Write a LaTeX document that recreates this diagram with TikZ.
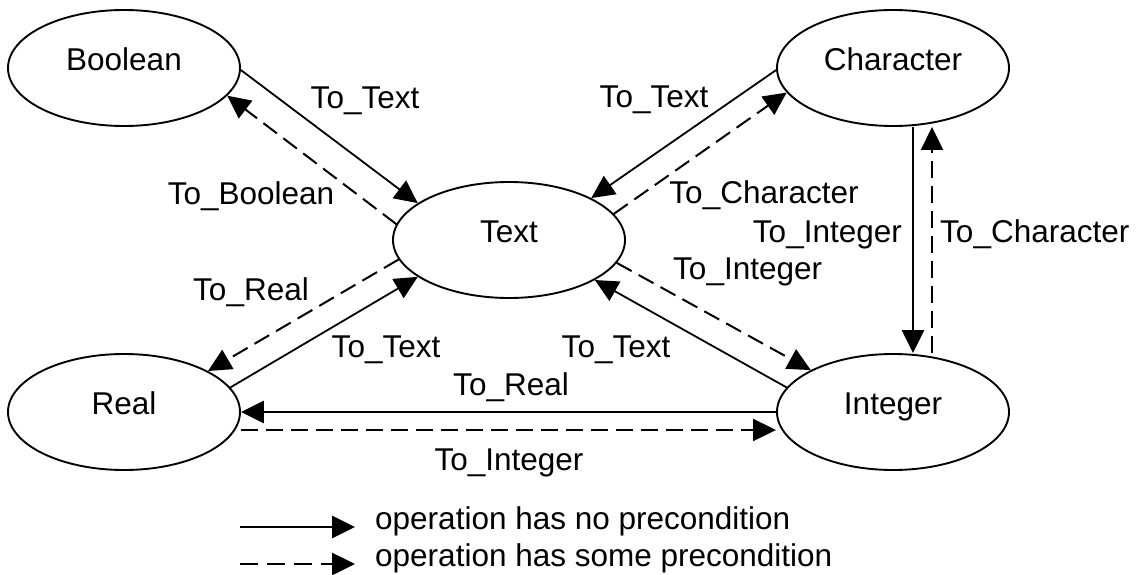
\documentclass[tikz,border=0pt]{standalone}
\usepackage{fontspec}
\setmainfont{Liberation Sans}
\usetikzlibrary{arrows.meta,shapes.geometric}
\begin{document}
\begin{tikzpicture}[x=1pt,y=-1pt,
  every node/.style={font=\fontsize{31.5}{38}\selectfont},
  state/.style={draw, ellipse, line width=1.9pt, minimum width=232pt, minimum height=116pt,
                inner sep=0pt, text height=22.4pt, text depth=17pt},
  lbl/.style={inner sep=0pt},
  tipped/.style={-{Triangle[length=23pt,width=22pt]}},
  nopre/.style={tipped, line width=1.8pt},
  nopreheavy/.style={tipped, line width=2.9pt},
  somepre/.style={tipped, line width=2pt, dash pattern=on 17pt off 8pt}
]
\useasboundingbox (0,0) rectangle (1142,575);

% states
\node[state] (Boolean)   at (124,68)  {Boolean};
\node[state] (Character) at (893,68)  {Character};
\node[state] (Text)      at (509,240) {Text};
\node[state] (Real)      at (124,412) {Real};
\node[state] (Integer)   at (893,412) {Integer};

% Boolean <-> Text
\draw[nopre]   (Boolean.-1) -- (Text.158);
\draw[somepre] (Text.172.6) -- (Boolean.-15);
% Character <-> Text
\draw[nopre]   (Character.-179) -- (Text.27.4);
\draw[somepre] (Text.14.6) -- (Character.-167);
% Real <-> Text
\draw[somepre] (Text.-170.7) -- (Real.26);
\draw[nopre]   (Real.13) -- (Text.-158);
% Integer <-> Text
\draw[somepre] (Text.-12.8) -- (Integer.153);
\draw[nopre]   (Integer.167) -- (Text.-25.7);
% Character <-> Integer
\draw[nopreheavy] ([xshift=20pt]Character.south) -- ([xshift=20pt]Integer.north);
\draw[somepre]    ([xshift=39pt]Integer.north) -- ([xshift=39pt]Character.south);
% Integer <-> Real
\draw[nopreheavy] (Integer.west) -- (Real.east);
\draw[somepre]    ([yshift=-18pt]Real.east) -- ([yshift=-18pt]Integer.west);

% labels
\node[lbl, anchor=base] (lbt)  at (365,109) {To\_Text};
\node[lbl, anchor=base] (lbb)  at (251,204) {To\_Boolean};
\node[lbl, anchor=base] (lct)  at (654,108) {To\_Text};
\node[lbl, anchor=base] (lcc)  at (764,203) {To\_Character};
\node[lbl, anchor=base east] (lvi) at (902,242) {To\_Integer};
\node[lbl, anchor=base west] (lvc) at (940,242) {To\_Character};
\node[lbl, anchor=base west] (lti) at (673,279) {To\_Integer};
\node[lbl, anchor=base] (lrr)  at (251,300) {To\_Real};
\node[lbl, anchor=base] (lrt)  at (386,357) {To\_Text};
\node[lbl, anchor=base] (lit)  at (616,357) {To\_Text};
\node[lbl, anchor=base] (lhr)  at (511,395) {To\_Real};
\node[lbl, anchor=base] (lhi)  at (509,470) {To\_Integer};

% legend
\coordinate (k1a) at (240,527);
\coordinate (k1b) at (355,527);
\coordinate (k2a) at (240,564);
\coordinate (k2b) at (355,564);
\draw[tipped, line width=2.8pt] (k1a) -- (k1b);
\draw[tipped, line width=2.6pt, dash pattern=on 18pt off 9pt] (k2a) -- (k2b);
\node[lbl, anchor=base west] (kt1) at (375,529) {operation has no precondition};
\node[lbl, anchor=base west] (kt2) at (375,566) {operation has some precondition};
\end{tikzpicture}
\end{document}
